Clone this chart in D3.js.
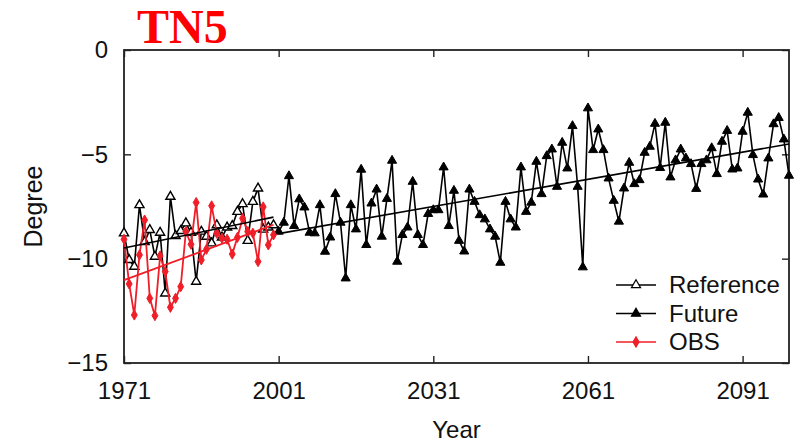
<!DOCTYPE html>
<html>
<head>
<meta charset="utf-8">
<script src="https://cdn.jsdelivr.net/npm/d3@7"></script>
<style>
  html, body { margin: 0; padding: 0; background: #fff; }
  svg { display: block; }
  text { font-family: "Liberation Sans", Arial, Helvetica, sans-serif; }
</style>
</head>
<body>
<svg id="chart" width="794" height="444"></svg>
<script>
// Annual TN5 index (degree), observed and simulated
const refYears = d3.range(1971, 2001);
const futYears = d3.range(2001, 2101);

const reference = [-8.78, -10.06, -10.38, -7.43, -9.2, -8.62, -9.9, -8.75, -11.66, -7.03,
  -8.91, -8.67, -8.3, -8.75, -11.1, -8.7, -8.94, -9.26, -8.39, -8.98,
  -8.5, -8.43, -7.75, -7.38, -9.14, -7.27, -6.63, -8.6, -8.5, -8.39];

const obs = [-9.07, -11.21, -12.7, -9.82, -8.15, -11.9, -12.73, -9.87, -10.62, -12.33,
  -11.9, -11.34, -8.7, -9.31, -7.31, -10.06, -9.55, -7.47, -8.78, -9.02,
  -9.07, -9.78, -8.98, -8.07, -8.7, -8.78, -10.14, -7.52, -9.34, -8.86];

const future = [-8.70, -8.27, -6.04, -8.43, -7.15, -7.54, -8.75, -8.78, -7.43, -9.66,
  -8.98, -6.90, -8.27, -10.94, -7.43, -8.59, -5.73, -9.34, -7.35, -6.68,
  -8.94, -7.13, -5.30, -10.14, -8.86, -8.50, -6.31, -8.86, -9.34, -7.85,
  -7.67, -7.67, -5.62, -8.43, -6.74, -9.14, -9.65, -6.68, -7.27, -7.91,
  -8.11, -8.59, -8.94, -10.19, -7.27, -8.11, -8.50, -5.62, -7.75, -7.31,
  -5.35, -6.90, -5.08, -4.76, -6.55, -4.44, -5.67, -3.64, -6.55, -10.41,
  -2.79, -4.79, -3.80, -4.79, -6.15, -7.22, -8.22, -6.63, -5.40, -6.42,
  -6.23, -4.92, -4.63, -3.53, -5.65, -3.48, -6.10, -5.28, -4.76, -5.19,
  -5.46, -6.65, -5.46, -5.28, -4.70, -5.94, -4.39, -3.87, -5.72, -5.67,
  -3.91, -3.00, -5.03, -6.20, -6.92, -5.19, -3.55, -3.25, -4.28, -6.02];

const xTicks = [1971, 2001, 2031, 2061, 2091];
const yTicks = [0, -5, -10, -15];
const legendLabels = ["Reference", "Future", "OBS"];

const plot = { left: 124, right: 789, top: 50, bottom: 363 };

const svg = d3.select("#chart");

const x = d3.scaleLinear().domain([1971, 2100]).range([plot.left, plot.right]);
const y = d3.scaleLinear().domain([-15, 0]).range([plot.bottom, plot.top]);

const RED = "#f01e28";
const LINE_W = 1.6;

// least-squares fit, returned as its two end points
function trend(xs, ys) {
  const mx = d3.mean(xs), my = d3.mean(ys);
  let sxy = 0, sxx = 0;
  xs.forEach((v, i) => { sxy += (v - mx) * (ys[i] - my); sxx += (v - mx) * (v - mx); });
  const b = sxy / sxx, a = my - b * mx;
  const x0 = xs[0], x1 = xs[xs.length - 1];
  return [[x0, a + b * x0], [x1, a + b * x1]];
}

const line = d3.line().x(d => x(d[0])).y(d => y(d[1]));

const triUp = d3.symbol().type(d3.symbolTriangle).size(36);
const diamond = d3.symbol().type(d3.symbolDiamond).size(30);

// axes (ticks point inward, box all round)
const axisBottom = d3.axisBottom(x).tickValues(xTicks).tickSize(-7).tickPadding(14).tickFormat(d3.format("d"));
const axisLeft = d3.axisLeft(y).tickValues(yTicks).tickSize(-7).tickPadding(16).tickFormat(d => d === 0 ? "0" : d3.format("d")(d));
const axisTop = d3.axisTop(x).tickValues(xTicks).tickSize(-7).tickFormat("");
const axisRight = d3.axisRight(y).tickValues(yTicks).tickSize(-7).tickFormat("");

function styleAxis(g) {
  g.select(".domain").remove();
  g.selectAll(".tick line").attr("stroke", "#222").attr("stroke-width", 1.4);
  g.selectAll(".tick text").attr("fill", "#111").style("font-size", "24px");
}

svg.append("g").attr("transform", `translate(0,${plot.bottom})`).call(axisBottom).call(styleAxis)
  .selectAll(".tick text").attr("dy", "0.9em");
svg.append("g").attr("transform", `translate(${plot.left},0)`).call(axisLeft).call(styleAxis);
svg.append("g").attr("transform", `translate(0,${plot.top})`).call(axisTop).call(styleAxis);
svg.append("g").attr("transform", `translate(${plot.right},0)`).call(axisRight).call(styleAxis);
svg.append("rect")
  .attr("x", plot.left).attr("y", plot.top)
  .attr("width", plot.right - plot.left).attr("height", plot.bottom - plot.top)
  .attr("fill", "none").attr("stroke", "#222").attr("stroke-width", 1.8);

// series
const refPts = refYears.map((yr, i) => [yr, reference[i]]);
const futPts = futYears.map((yr, i) => [yr, future[i]]);
const obsPts = refYears.map((yr, i) => [yr, obs[i]]);

const gData = svg.append("g");

gData.append("path").datum(refPts).attr("d", line)
  .attr("fill", "none").attr("stroke", "#000").attr("stroke-width", LINE_W);
gData.append("path").datum(futPts).attr("d", line)
  .attr("fill", "none").attr("stroke", "#000").attr("stroke-width", LINE_W);

gData.selectAll(".ref").data(refPts).join("path").attr("class", "ref")
  .attr("d", triUp).attr("transform", d => `translate(${x(d[0])},${y(d[1])})`)
  .attr("fill", "#fff").attr("stroke", "#000").attr("stroke-width", 1.4);
gData.selectAll(".fut").data(futPts).join("path").attr("class", "fut")
  .attr("d", triUp).attr("transform", d => `translate(${x(d[0])},${y(d[1])})`)
  .attr("fill", "#000").attr("stroke", "#000").attr("stroke-width", 1);

gData.append("path").datum(obsPts).attr("d", line)
  .attr("fill", "none").attr("stroke", RED).attr("stroke-width", LINE_W + 0.2);
gData.selectAll(".obs").data(obsPts).join("path").attr("class", "obs")
  .attr("d", diamond).attr("transform", d => `translate(${x(d[0])},${y(d[1])})`)
  .attr("fill", RED).attr("stroke", RED).attr("stroke-width", 1);

// linear trends
gData.append("path").datum(trend(refYears, reference)).attr("d", line)
  .attr("stroke", "#000").attr("stroke-width", LINE_W);
gData.append("path").datum(trend(futYears, future)).attr("d", line)
  .attr("stroke", "#000").attr("stroke-width", LINE_W);
gData.append("path").datum(trend(refYears, obs)).attr("d", line)
  .attr("stroke", RED).attr("stroke-width", LINE_W + 0.2);

// legend
const legend = svg.append("g").attr("transform", "translate(616,285)");
legendLabels.forEach((lab, i) => {
  const g = legend.append("g").attr("transform", `translate(0,${i * 28.5})`);
  const col = i === 2 ? RED : "#000";
  g.append("line").attr("x1", 0).attr("x2", 40).attr("y1", 0).attr("y2", 0)
    .attr("stroke", col).attr("stroke-width", 1.4);
  g.append("path").attr("d", i === 2 ? diamond() : triUp())
    .attr("transform", "translate(20,0)")
    .attr("fill", i === 0 ? "#fff" : col).attr("stroke", col).attr("stroke-width", 1.2);
  g.append("text").attr("x", 53).attr("y", 0).attr("dy", "0.35em")
    .style("font-size", "24px").attr("fill", "#111").text(lab);
});

// titles
svg.append("text").attr("x", 137).attr("y", 43)
  .style("font-family", "'Liberation Serif', 'Times New Roman', serif")
  .style("font-weight", "bold").style("font-size", "48px")
  .attr("fill", "#ff0000").text("TN5");

svg.append("text").attr("x", (plot.left + plot.right) / 2).attr("y", 438)
  .attr("text-anchor", "middle").style("font-size", "24px").attr("fill", "#111").text("Year");

svg.append("text")
  .attr("transform", `translate(42,${(plot.top + plot.bottom) / 2}) rotate(-90)`)
  .attr("text-anchor", "middle").style("font-size", "25px").attr("fill", "#111").text("Degree");
</script>
</body>
</html>
